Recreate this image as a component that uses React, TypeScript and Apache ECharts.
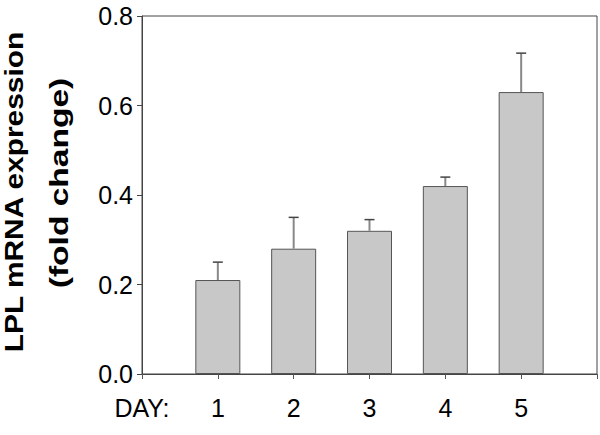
import React, { useEffect, useRef } from "react";
import * as echarts from "echarts";

const categories = ["DAY:", "1", "2", "3", "4", "5", ""];
const means: (number | null)[] = [null, 0.21, 0.28, 0.32, 0.42, 0.63, null];
const errors: (number | null)[] = [null, 0.04, 0.07, 0.025, 0.02, 0.087, null];
const yMin = 0;
const yMax = 0.8;
const yInterval = 0.2;
const titleLine1 = "LPL mRNA expression";
const titleLine2 = "(fold change)";

export default function App() {
  const ref = useRef<HTMLDivElement>(null);
  useEffect(() => {
    if (!ref.current) return;
    const chart = echarts.init(ref.current, null, { renderer: "svg" });
    const errData = means
      .map((m, i) => (m == null ? null : [i, m, errors[i] as number]))
      .filter((d) => d != null);
    const font = "'Liberation Sans', Arial, Helvetica, sans-serif";
    chart.setOption({
      animation: false,
      backgroundColor: "#ffffff",
      grid: {
        left: 142,
        right: 1,
        top: 16,
        bottom: 61,
        show: true,
        borderColor: "#444",
        borderWidth: 1,
        backgroundColor: "transparent",
      },
      xAxis: {
        type: "category",
        data: categories,
        boundaryGap: false,
        axisLine: { lineStyle: { color: "#444", width: 1 } },
        axisTick: { show: true, inside: false, length: 5, lineStyle: { color: "#555" } },
        axisLabel: {
          color: "#000",
          fontSize: 25,
          fontFamily: font,
          margin: 21,
          interval: 0,
        },
        splitLine: { show: false },
      },
      yAxis: {
        type: "value",
        min: yMin,
        max: yMax,
        interval: yInterval,
        axisLine: { show: true, lineStyle: { color: "#444", width: 1 } },
        axisTick: { show: true, inside: false, length: 5, lineStyle: { color: "#444" } },
        axisLabel: {
          color: "#000",
          fontSize: 25,
          fontFamily: font,
          margin: 9,
          formatter: (v: number) => v.toFixed(1),
        },
        splitLine: { show: false },
      },
      graphic: [
        {
          type: "text",
          x: 14,
          y: 192,
          rotation: Math.PI / 2,
          scaleX: 1.15,
          style: {
            text: titleLine1,
            font: `bold 26px ${font}`,
            fill: "#000",
            textAlign: "center",
            textVerticalAlign: "middle",
          },
        },
        {
          type: "text",
          x: 59,
          y: 183,
          rotation: Math.PI / 2,
          scaleX: 1.29,
          style: {
            text: titleLine2,
            font: `bold 26px ${font}`,
            fill: "#000",
            textAlign: "center",
            textVerticalAlign: "middle",
          },
        },
      ],
      series: [
        {
          type: "bar",
          data: means.map((v) => (v == null ? "-" : v)),
          barWidth: 45,
          itemStyle: { color: "#c8c8c8", borderColor: "#555", borderWidth: 1 },
          z: 2,
        },
        {
          type: "custom",
          data: errData,
          encode: { x: 0, y: 1 },
          z: 3,
          renderItem: (params: any, api: any) => {
            const x = api.value(0);
            const m = api.value(1);
            const e = api.value(2);
            const p0 = api.coord([x, m]);
            const p1 = api.coord([x, m + e]);
            return {
              type: "group",
              children: [
                {
                  type: "line",
                  shape: { x1: p0[0], y1: p0[1], x2: p1[0], y2: p1[1] },
                  style: { stroke: "#888", lineWidth: 2 },
                },
                {
                  type: "line",
                  shape: { x1: p1[0] - 5, y1: p1[1], x2: p1[0] + 5, y2: p1[1] },
                  style: { stroke: "#444", lineWidth: 1.5 },
                },
              ],
            };
          },
        },
      ],
    });
    return () => chart.dispose();
  }, []);
  return (
    <div
      ref={ref}
      style={{ position: "absolute", left: 0, top: 0, width: 600, height: 435 }}
    />
  );
}
